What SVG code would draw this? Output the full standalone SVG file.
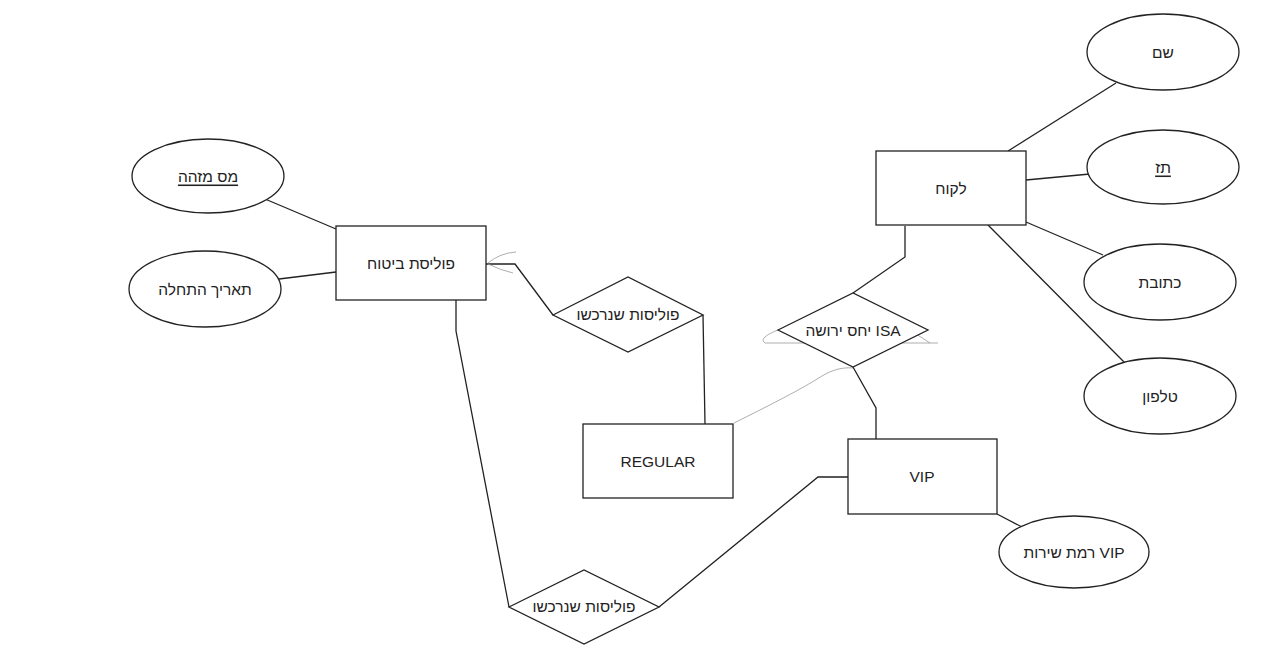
<svg xmlns="http://www.w3.org/2000/svg" width="1261" height="649" viewBox="0 0 1261 649">
<style>
.s{fill:#fff;stroke:#222;stroke-width:1.3}
.c{fill:none;stroke:#222;stroke-width:1.3}
.g{fill:none;stroke:#999;stroke-width:0.8}
text{font-family:"Liberation Sans","Noto Sans",Arial,sans-serif;font-size:15.5px;fill:#222;text-anchor:middle;dominant-baseline:central}
.u{text-decoration:underline}
</style>
<rect width="1261" height="649" fill="#fff"/>
<g id="connectors">
<path class="c" d="M265 199 L336 229"/>
<path class="c" d="M279 279 L336 272"/>
<path class="c" d="M1116 83 L1008 151"/>
<path class="c" d="M1026 180 L1090 174"/>
<path class="c" d="M1026 222 L1103 255"/>
<path class="c" d="M988 225 L1124 362"/>
<path class="c" d="M905 226 L905 257 L853 293"/>
<path class="c" d="M853 367 L876 408 L876 439"/>
<path class="c" d="M705 424 L703 315"/>
<path class="c" d="M553 315 L515 264 L486 264"/>
<path class="c" d="M456 300 L456 331 L509 607"/>
<path class="c" d="M659 607 L818 477 L848 477"/>
<path class="c" d="M997 514 L1022 527"/>
<path class="g" d="M488 263 Q500 253 516 252"/>
<path class="g" d="M488 264 Q500 270 513 273"/>
<path class="g" d="M734 423 C770 405 800 390 822 376 C832 370 842 367 853 368"/>
<path class="g" d="M778 330 C765 335 760 340 765 343 L938 343"/>
<path class="g" d="M856 295 L930 343"/>
</g>
<g id="policy"><rect class="s" x="336" y="226" width="150" height="74"/><text x="411" y="263">פוליסת ביטוח</text></g>
<g id="customer"><rect class="s" x="876" y="151" width="150" height="74"/><text x="951" y="188">לקוח</text></g>
<g id="regular"><rect class="s" x="583" y="424" width="150" height="74"/><text x="658" y="461">REGULAR</text></g>
<g id="vip"><rect class="s" x="848" y="439" width="149" height="75"/><text x="922" y="476">VIP</text></g>
<g id="attr-name"><ellipse class="s" cx="1163" cy="52" rx="76" ry="38"/><text x="1163" y="52">שם</text></g>
<g id="attr-id"><ellipse class="s" cx="1163" cy="167" rx="76" ry="37"/><text class="u" x="1163" y="167">תז</text></g>
<g id="attr-address"><ellipse class="s" cx="1160" cy="282" rx="76" ry="38"/><text x="1160" y="282">כתובת</text></g>
<g id="attr-phone"><ellipse class="s" cx="1160" cy="396" rx="76" ry="38"/><text x="1160" y="396">טלפון</text></g>
<g id="attr-policyid"><ellipse class="s" cx="208" cy="176" rx="76" ry="37"/><text class="u" x="208" y="176">מס מזהה</text></g>
<g id="attr-startdate"><ellipse class="s" cx="205" cy="289" rx="76" ry="38"/><text x="205" y="289">תאריך התחלה</text></g>
<g id="attr-viplevel"><ellipse class="s" cx="1074" cy="552" rx="75" ry="36"/><text x="1074" y="552" direction="rtl">VIP רמת שירות</text></g>
<g id="rel-purchased-1"><polygon class="s" points="553,315 628,277 703,315 628,352"/><text x="628" y="314">פוליסות שנרכשו</text></g>
<g id="rel-isa"><polygon class="s" points="778,330 853,293 928,330 853,367"/><text x="853" y="330" direction="rtl">ISA יחס ירושה</text></g>
<g id="rel-purchased-2"><polygon class="s" points="509,607 584,570 659,607 584,644"/><text x="584" y="606">פוליסות שנרכשו</text></g>
</svg>
